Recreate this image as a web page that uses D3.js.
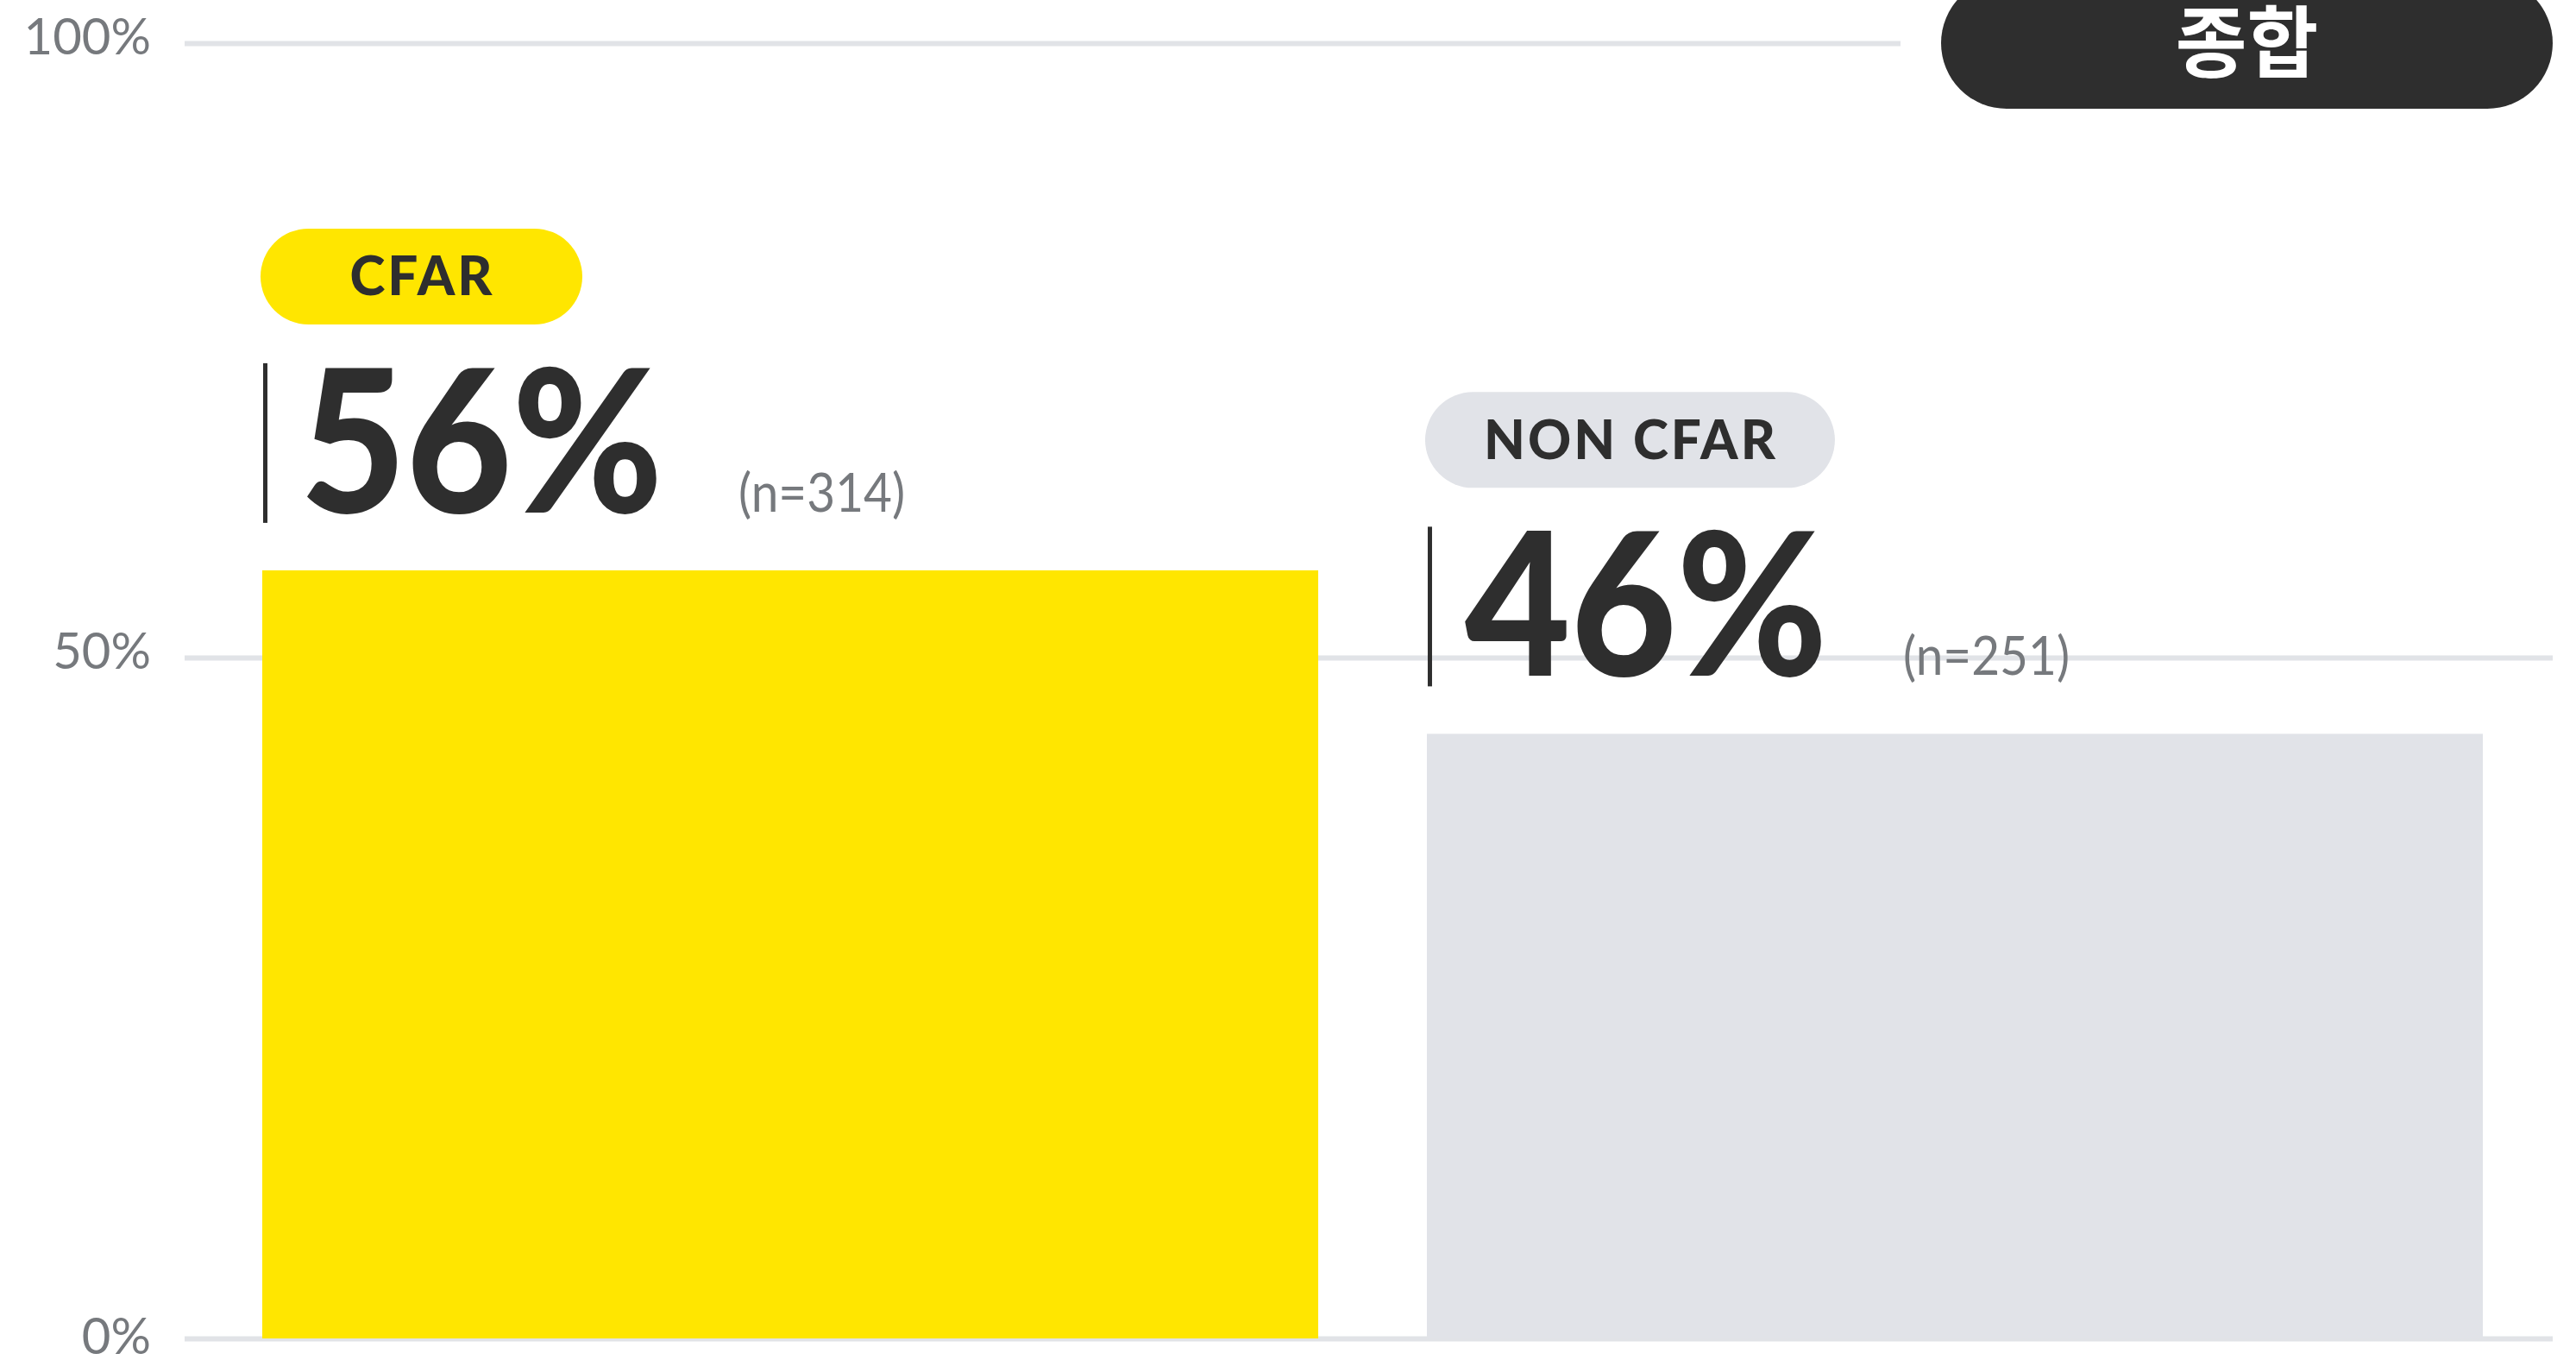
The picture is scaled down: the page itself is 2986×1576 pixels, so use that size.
<!DOCTYPE html>
<html>
<head>
<meta charset="utf-8">
<script src="https://cdn.jsdelivr.net/npm/d3@7"></script>
<style>
  html, body { margin: 0; padding: 0; background: #fff; }
  svg { display: block; }
  .tick text { font-family: Lato, "Noto Sans", sans-serif; fill: #76797d; }
</style>
</head>
<body>
<div id="chart"></div>
<script>
// chart data
var categories = ["CFAR", "NON CFAR"];
var valueLabels = ["56%", "46%"];
var barValues = [57.1, 44.4];   // bar heights as drawn in the picture
var sampleLabels = ["(n=314)", "(n=251)"];
var tickValues = [0, 50, 100];
var badgeText = "종합";

// SVG layout
var svgWidth = 2986;
var svgHeight = 1576;

var colors = {
  yellow: "#ffe600",
  grey: "#e1e3e8",
  dark: "#2e2e2e",
  grid: "#e1e3e7",
  tick: "#76797d"
};

var svg = d3.select("#chart")
  .append("svg")
  .attr("width", svgWidth)
  .attr("height", svgHeight);

// y scale: gridlines in the picture are not evenly spaced
var yScale = d3.scaleLinear()
  .domain([0, 50, 100])
  .range([1551, 762, 50]);

var xScale = d3.scaleBand()
  .domain(categories)
  .range([304, 2878])
  .paddingInner(0.0933)
  .paddingOuter(0);

// gridlines + tick labels
var axisLeft = d3.axisLeft(yScale)
  .tickValues(tickValues)
  .tickSize(-(2959 - 214))
  .tickPadding(39)
  .tickFormat(d => d + "%");

var yAxis = svg.append("g")
  .attr("transform", "translate(214, 0)")
  .call(axisLeft);

yAxis.select(".domain").remove();
yAxis.selectAll(".tick line")
  .attr("stroke", colors.grid)
  .attr("stroke-width", 6);
yAxis.selectAll(".tick text")
  .attr("font-size", 58)
  .attr("dy", d => d === 0 ? "0.3em" : "0.22em")
  .attr("fill", colors.tick);

// top right badge, with a white margin that cuts the 100% gridline
var badge = svg.append("g");
badge.append("rect")
  .attr("x", 2203)
  .attr("y", -60)
  .attr("width", 2986 - 2203)
  .attr("height", 200)
  .attr("fill", "#fff");
badge.append("rect")
  .attr("x", 2250)
  .attr("y", -26)
  .attr("width", 2959 - 2250)
  .attr("height", 152)
  .attr("rx", 76)
  .attr("fill", colors.dark);
badge.append("text")
  .attr("x", (2250 + 2959) / 2)
  .attr("y", 50)
  .attr("dy", "0.36em")
  .attr("text-anchor", "middle")
  .attr("font-family", "'Noto Sans CJK KR', sans-serif")
  .attr("font-weight", 700)
  .attr("font-size", 90)
  .attr("fill", "#fff")
  .text(badgeText);

// bars
var barData = categories.map((c, i) => ({
  cat: c,
  value: barValues[i],
  label: valueLabels[i],
  n: sampleLabels[i],
  color: i === 0 ? colors.yellow : colors.grey
}));

svg.selectAll(".bar")
  .data(barData)
  .enter()
  .append("rect")
  .attr("class", "bar")
  .attr("x", d => xScale(d.cat))
  .attr("y", d => yScale(d.value))
  .attr("width", xScale.bandwidth())
  .attr("height", d => yScale(0) - yScale(d.value))
  .attr("fill", d => d.color);

// labels above each bar
barData.forEach(function(d) {
  var x0 = xScale(d.cat);
  var top = yScale(d.value);
  var g = svg.append("g");

  // category pill
  var pillTop = top - 396;
  var pillH = 111;
  var pillText = g.append("text")
    .attr("font-family", "Lato, sans-serif")
    .attr("font-weight", 900)
    .attr("font-size", 62)
    .attr("letter-spacing", 3)
    .attr("fill", colors.dark)
    .attr("text-anchor", "middle")
    .text(d.cat);
  var textW = pillText.node().getComputedTextLength();
  var pillW = Math.max(textW + 134, 373);
  g.insert("rect", "text")
    .attr("x", x0 - 2)
    .attr("y", pillTop)
    .attr("width", pillW)
    .attr("height", pillH)
    .attr("rx", pillH / 2)
    .attr("fill", d.cat === "CFAR" ? colors.yellow : colors.grey);
  pillText
    .attr("x", x0 - 2 + pillW / 2 + 1)
    .attr("y", pillTop + pillH / 2 + 22);

  // marker line
  g.append("rect")
    .attr("x", x0 + 1)
    .attr("y", top - 240)
    .attr("width", 5)
    .attr("height", 185)
    .attr("fill", colors.dark);

  // big value
  g.append("text")
    .attr("transform", `translate(${x0 + 44}, ${top - 67}) scale(0.92, 1)`)
    .attr("font-family", "Lato, sans-serif")
    .attr("font-weight", 900)
    .attr("font-size", 230)
    .attr("fill", colors.dark)
    .text(d.label);

  // sample size
  g.append("text")
    .attr("transform", `translate(${x0 + 552}, ${top - 68}) scale(0.93, 1)`)
    .attr("font-family", "Lato, sans-serif")
    .attr("font-weight", 400)
    .attr("font-size", 61)
    .attr("fill", colors.tick)
    .text(d.n);
});
</script>
</body>
</html>
